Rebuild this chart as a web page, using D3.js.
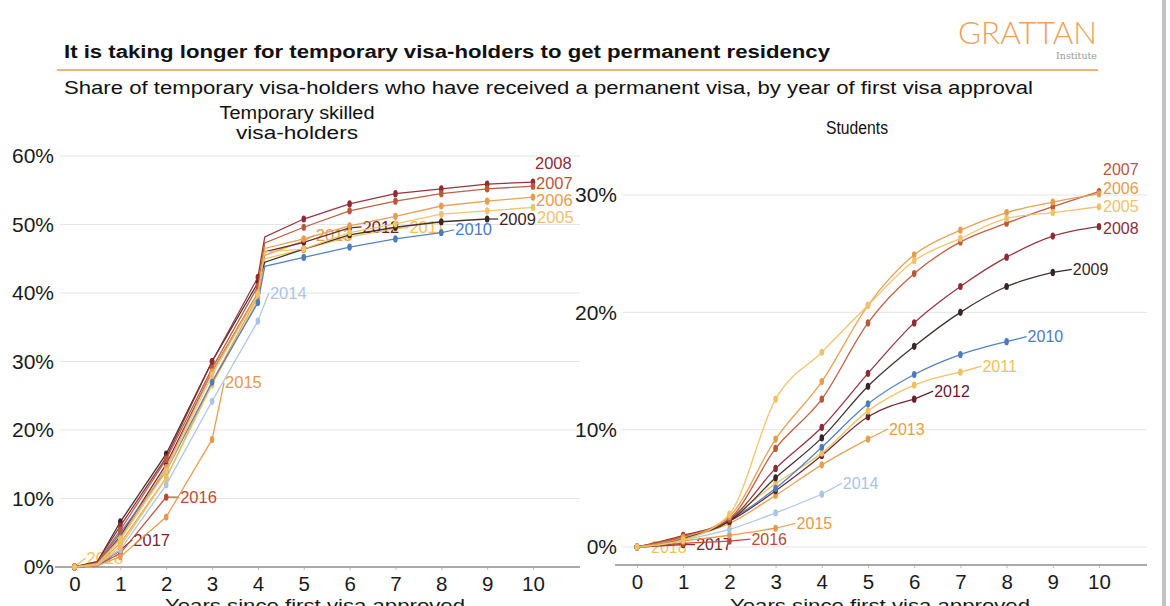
<!DOCTYPE html>
<html><head><meta charset="utf-8">
<script src="https://cdn.jsdelivr.net/npm/d3@7"></script>
<style>
body{margin:0;background:#fff;}
svg{display:block;font-family:"Liberation Sans",Arial,sans-serif;}
</style>
</head><body>
<svg id="c" width="1170" height="606"></svg>
<script>
// ---------- data ----------
const cohorts = ["2005","2006","2007","2008","2009","2010","2011","2012","2013","2014","2015","2016","2017","2018"];
const cohortColors = ["#f1c16c","#e79c4d","#b9583a","#8e2b35","#3a2626","#4a7cbf","#efc05c","#65202c","#e3a04a","#a9c4e3","#e6984c","#bd4a33","#7c2434","#f0bf62"];

const skilledTitle = ["Temporary skilled","visa-holders"];
const studentTitle = ["Students"];
const skilledYears = [0,0.5,1,2,3,4,4.15,5,6,7,8,9,10];
const skilledShares = [
  [0,0.4,4.0,14.0,28.0,39.8,46.0,46.4,48.8,50.1,51.5,52.0,52.5],
  [0,0.5,4.2,14.5,28.5,40.0,46.5,47.9,49.8,51.2,52.7,53.4,54.0],
  [0,0.6,5.4,15.7,29.0,41.0,47.3,49.6,52.0,53.4,54.5,55.2,55.6],
  [0,0.8,6.0,16.0,30.0,42.3,48.2,50.8,53.0,54.5,55.2,55.9,56.2],
  [0,0.8,6.6,16.5,30.0,41.5,44.5,46.4,48.5,49.6,50.4,50.8],
  [0,0.5,5.0,14.0,27.0,38.6,43.9,45.2,46.7,47.9,48.8],
  [0,0.3,3.0,13.0,26.6,39.0,45.0,46.4,48.2,49.4],
  [0,0.4,4.5,15.0,28.5,40.0,46.0,47.4,49.5],
  [0,0.3,3.5,13.0,27.0,39.5,45.5,47.6],
  [0,0.3,2.5,12.0,24.2,35.9],
  [0,0.2,1.5,7.3,18.6],
  [0,0.2,2.0,10.2],
  [0,0.2,2.5],
  [0]
];
const studentYears = [0,1,2,3,4,5,6,7,8,9,10];
const studentShares = [
  [0,0.6,2.8,12.6,16.6,20.6,24.4,26.3,28.0,28.5,29.0],
  [0,0.8,2.6,9.2,14.1,20.6,24.9,27.0,28.5,29.4,30.1],
  [0,0.9,2.4,8.4,12.6,19.1,23.3,26.0,27.6,29.0,30.3],
  [0,1.0,2.3,6.7,10.2,14.8,19.1,22.2,24.7,26.5,27.3],
  [0,0.8,2.2,5.9,9.3,13.7,17.1,20.0,22.2,23.4],
  [0,0.7,2.3,5.0,8.5,12.2,14.7,16.4,17.5],
  [0,0.6,2.5,5.4,8.0,11.6,13.8,14.9],
  [0,0.8,2.2,4.8,7.8,11.1,12.6],
  [0,0.7,2.0,4.4,7.0,9.2],
  [0,0.6,1.5,2.9,4.5],
  [0,0.5,1.0,1.6],
  [0,0.3,0.5],
  [0,0.2],
  [0]
];
const skilledTicks = [0,10,20,30,40,50,60];
const studentTicks = [0,10,20,30];
const yearTicks = [0,1,2,3,4,5,6,7,8,9,10];

const titleText = "It is taking longer for temporary visa-holders to get permanent residency";
const subtitleText = "Share of temporary visa-holders who have received a permanent visa, by year of first visa approval";
const xTitleText = "Years since first visa approved";

// label nudges (px) – styling only
const skilledNudgeX = [4,3,3,2,12,14,14,13,12,12,13,14,13,12];
const skilledNudgeY = [10,3,-3,-19,0,-3,-1,-1,-6,-28,-57,0,-10,-9];
const studentNudgeX = [4,4,4,4,20,21,22,20,21,21,21,22,13,14];
const studentNudgeY = [0,-5,-22,2,-3,-5,-6,-8,-10,-11,-5,-2,0,0];

// ---------- drawing ----------
const svg = d3.select("#c");
svg.append("rect").attr("width",1170).attr("height",606).attr("fill","#fff");

// header
svg.append("text").attr("x",64).attr("y",58).attr("font-size",18).attr("font-weight","bold").attr("fill","#111")
  .attr("textLength",766).attr("lengthAdjust","spacingAndGlyphs").text(titleText);
svg.append("line").attr("x1",57).attr("x2",1098).attr("y1",70).attr("y2",70).attr("stroke","#ebb47c").attr("stroke-width",2);
svg.append("text").attr("x",64).attr("y",94).attr("font-size",18).attr("fill","#111")
  .attr("textLength",969).attr("lengthAdjust","spacingAndGlyphs").text(subtitleText);
svg.append("text").attr("x",958).attr("y",44).attr("font-size",32).attr("font-family","Lato, 'Liberation Sans', sans-serif").attr("font-weight",300)
  .attr("fill","#e7a35c").attr("textLength",139).attr("lengthAdjust","spacingAndGlyphs").text("GRATTAN");
svg.append("text").attr("x",1097).attr("y",59).attr("text-anchor","end").attr("font-size",9.5).attr("font-family","'DejaVu Serif','Liberation Serif',serif")
  .attr("fill","#9a9a9a").text("Institute");
// right border shadow
svg.append("rect").attr("x",1162).attr("y",0).attr("width",4).attr("height",606).attr("fill","#c4c4c4");

function panel(opt){
  const g = svg.append("g");
  const x = d3.scaleLinear([0,10], opt.xr);
  const y = d3.scaleLinear([0, opt.yMax], opt.yr);
  // gridlines
  g.selectAll(".grid").data(opt.yTicks).join("line")
    .attr("x1",opt.gx[0]).attr("x2",opt.gx[1])
    .attr("y1",d=>y(d)).attr("y2",d=>y(d))
    .attr("stroke","#e4e4e4").attr("stroke-width",1);
  // y axis labels
  const ya = d3.axisLeft(y).tickValues(opt.yTicks).tickFormat(d=>d+"%").tickSize(0).tickPadding(0);
  const yg = g.append("g").attr("transform",`translate(${opt.yLabelX},0)`).call(ya);
  yg.select(".domain").remove();
  yg.selectAll("text").attr("font-size",21).attr("fill","#1a1a1a").attr("font-family","'Liberation Sans',Arial,sans-serif");
  // x axis
  const xa = d3.axisBottom(x).tickValues(yearTicks).tickSize(3).tickPadding(6);
  const xg = g.append("g").attr("transform",`translate(0,${opt.axisY})`).call(xa);
  xg.select(".domain").remove();
  xg.selectAll(".tick line").attr("stroke","#bbb");
  xg.selectAll("text").attr("font-size",20.5).attr("fill","#1a1a1a").attr("font-family","'Liberation Sans',Arial,sans-serif");
  g.append("line").attr("x1",opt.ax[0]).attr("x2",opt.ax[1]).attr("y1",opt.axisY).attr("y2",opt.axisY)
    .attr("stroke","#a9a9a9").attr("stroke-width",2);
  // x title
  g.append("text").attr("x",opt.xTitleX-150).attr("y",612).attr("font-size",19).attr("fill","#1a1a1a")
    .attr("textLength",300).attr("lengthAdjust","spacingAndGlyphs").text(xTitleText);
  // panel title
  opt.title.forEach((t,i)=>{
    g.append("text").attr("x",opt.titleX - opt.titleW[i]/2).attr("y",opt.titleY + i*20).attr("font-size",opt.titleSize).attr("fill","#111")
      .attr("textLength",opt.titleW[i]).attr("lengthAdjust","spacingAndGlyphs").text(t);
  });

  const line = d3.line().x(d=>x(d[0])).y(d=>y(d[1])).curve(opt.curve);
  const order = d3.range(cohorts.length).reverse();
  order.forEach(i=>{
    const pts = opt.shares[i].map((v,k)=>[opt.years[k], v]);
    const col = cohortColors[i];
    g.append("path").attr("d",line(pts)).attr("fill","none").attr("stroke",col).attr("stroke-width",1.3).attr("opacity",0.95);
    const dots = pts.filter(p=>Number.isInteger(p[0]));
    g.selectAll(null).data(dots).join("ellipse")
      .attr("cx",d=>x(d[0])).attr("cy",d=>y(d[1])).attr("rx",2.3).attr("ry",3.6).attr("fill",col);
    const last = pts[pts.length-1];
    const ex = x(last[0]), ey = y(last[1]);
    const lx = ex + opt.nx[i], ly = ey + opt.ny[i];
    if (opt.nx[i] > 6){
      g.append("line").attr("x1",ex).attr("y1",ey).attr("x2",lx-1).attr("y2",ly).attr("stroke",col).attr("stroke-width",1.2);
    }
    g.append("text").attr("x",lx).attr("y",ly).attr("dy","0.35em").attr("font-size",opt.labelSize).attr("fill",col).text(cohorts[i]);
  });
}

panel({
  xr:[74.5,533], yr:[567,156], yMax:60, yTicks:skilledTicks, gx:[60,580], ax:[55,580], axisY:567, yLabelX:54,
  xTitleX:315, title:skilledTitle, titleW:[155,122], titleSize:18, titleX:297, titleY:119, years:skilledYears, shares:skilledShares,
  nx:skilledNudgeX, ny:skilledNudgeY, curve:d3.curveLinear, labelSize:16.5
});
panel({
  xr:[637,1099], yr:[547,195], yMax:30, yTicks:studentTicks, gx:[622,1147], ax:[615,1147], axisY:565, yLabelX:617,
  xTitleX:880, title:studentTitle, titleW:[62], titleSize:17.5, titleX:857, titleY:134, years:studentYears, shares:studentShares,
  nx:studentNudgeX, ny:studentNudgeY, curve:d3.curveMonotoneX, labelSize:16
});
</script>
</body></html>
